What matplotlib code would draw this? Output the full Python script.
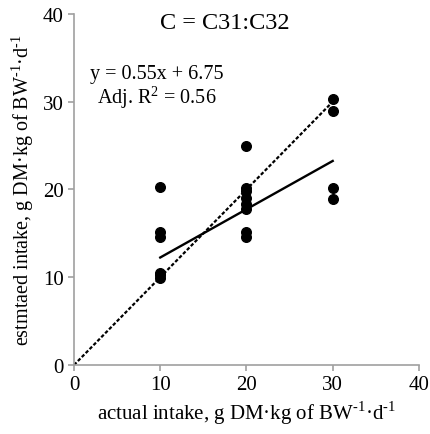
import matplotlib
matplotlib.use("Agg")
import numpy as np
import matplotlib.pyplot as plt

plt.rcParams["font.family"] = ["Liberation Serif", "DejaVu Serif"]
plt.rcParams["mathtext.fontset"] = "custom"
plt.rcParams["mathtext.rm"] = "Liberation Serif"

# data
actual = [10, 10, 10, 10, 10, 10,
          20, 20, 20, 20, 20, 20, 20, 20,
          30, 30, 30, 30]
estimated = [20.3, 15.1, 14.6, 10.5, 10.2, 9.9,
             25.0, 20.2, 19.8, 19.0, 18.4, 17.8, 15.1, 14.6,
             30.3, 29.0, 20.2, 18.9]
slope = 0.55
intercept = 6.75
adj_r2 = 0.56
title = "C = C31:C32"

fig = plt.figure(figsize=(4.31, 4.35), dpi=100)
ax = fig.add_axes([0.1717, 0.1586, 0.8003, 0.807])

# 1:1 line
ax.plot([0, 30], [0, 30], color="black", linestyle=(0, (1.6, 0.9)), linewidth=1.6)
# fitted line
fx = np.array([10, 30])
ax.plot(fx, slope * fx + intercept, color="black", linewidth=1.7)
ax.scatter(actual, estimated, s=48, color="black", zorder=3)

ax.set_xlim(0, 40)
ax.set_ylim(0, 40)
ax.set_xticks([0, 10, 20, 30, 40])
ax.set_yticks([0, 10, 20, 30, 40])
ax.tick_params(labelsize=15, length=4, color="#a0a0a0", width=1.2)
for s in ["top", "right"]:
    ax.spines[s].set_visible(False)
for s in ["left", "bottom"]:
    ax.spines[s].set_color("#a0a0a0")
    ax.spines[s].set_linewidth(1.2)

unit = r"g DM·kg of BW$^{\text{-1}}$·d$^{\text{-1}}$"
ax.set_xlabel("actual intake, " + unit, fontsize=15, labelpad=3)
ax.set_ylabel("estmtaed intake, " + unit, fontsize=14.5, labelpad=5)

ax.text(17.5, 39, title, fontsize=17.5, ha="center", va="center")
ax.text(9.6, 33.2, f"y = {slope:.2f}x + {intercept:.2f}", fontsize=14.5, ha="center", va="center")
ax.text(9.6, 30.6, f"Adj. R$^{{\\text{{2}}}}$ = {adj_r2:.2f}", fontsize=14.5, ha="center", va="center")

fig.savefig("out.png", dpi=100)
